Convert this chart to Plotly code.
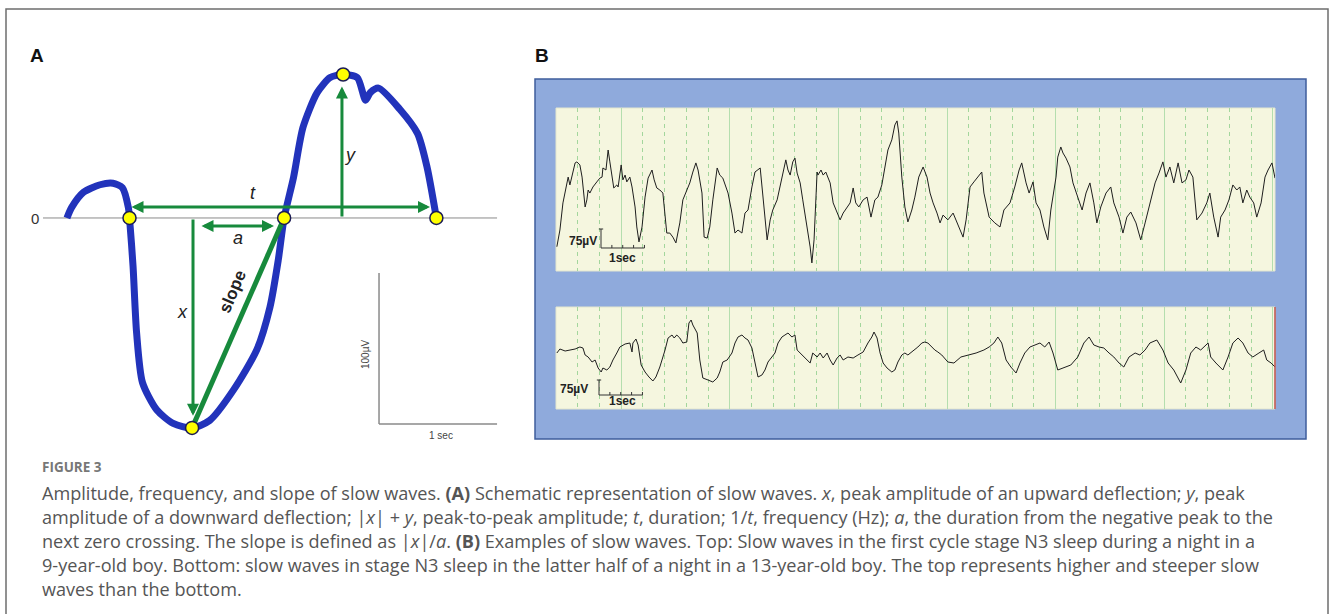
import plotly.graph_objects as go

W, H = 1332, 614

# ---------------- DATA ----------------
# Panel A: schematic slow wave (time in s, amplitude in µV)
wave_t = [0.00, 0.04, 0.14, 0.28, 0.39, 0.47, 0.52, 0.53, 0.56, 0.59, 0.64, 0.76, 0.90, 1.06,
          1.21, 1.41, 1.61, 1.72, 1.79, 1.84, 1.92, 2.00, 2.12, 2.23, 2.34, 2.46, 2.53, 2.57,
          2.64, 2.82, 2.97, 3.05, 3.13]
wave_uv = [0, 7, 17, 22, 23, 20, 7, 0, -32, -76, -109, -127, -136, -139,
           -134, -114, -87, -59, -28, 0, 27, 60, 83, 93, 95, 93, 78, 83,
           86, 72, 56, 34, 0]
key_t = [0.53, 1.84, 3.13, 1.06, 2.34]
key_uv = [0, 0, 0, -139, 95]

# Panel B top: first-cycle N3, 9-year-old (time s, µV)
top_t = [0.02, 0.09, 0.16, 0.25, 0.28, 0.32, 0.37, 0.44, 0.48, 0.55, 0.60, 0.67, 0.71, 0.74, 0.78,
         0.85, 0.94, 1.01, 1.06, 1.08, 1.15, 1.20, 1.24, 1.29, 1.33, 1.40, 1.43, 1.50, 1.54, 1.59,
         1.63, 1.70, 1.75, 1.82, 1.86, 1.91, 1.98, 2.05, 2.12, 2.21, 2.26, 2.32, 2.39, 2.46, 2.55,
         2.62, 2.69, 2.76, 2.85, 2.92, 3.01, 3.08, 3.15, 3.22, 3.27, 3.36, 3.41, 3.48, 3.54, 3.61,
         3.71, 3.77, 3.84, 3.96, 4.05, 4.12, 4.19, 4.28, 4.35, 4.42, 4.51, 4.58, 4.70, 4.76, 4.86,
         4.93, 4.99, 5.09, 5.16, 5.22, 5.29, 5.34, 5.39, 5.45, 5.50, 5.55, 5.62, 5.68, 5.78, 5.85,
         5.89, 5.94, 6.01, 6.03, 6.10, 6.15, 6.21, 6.31, 6.38, 6.47, 6.54, 6.61, 6.70, 6.77, 6.84,
         6.90, 6.97, 7.07, 7.16, 7.25, 7.34, 7.41, 7.50, 7.57, 7.64, 7.73, 7.80, 7.85, 7.89, 7.96,
         8.03, 8.10, 8.19, 8.26, 8.35, 8.45, 8.54, 8.61, 8.68, 8.77, 8.84, 8.91, 9.02, 9.14, 9.28,
         9.37, 9.44, 9.53, 9.62, 9.71, 9.80, 9.85, 9.97, 10.10, 10.22, 10.31, 10.45, 10.56, 10.66,
         10.72, 10.82, 10.89, 10.98, 11.05, 11.14, 11.23, 11.32, 11.39, 11.51, 11.55, 11.62, 11.67,
         11.74, 11.83, 11.90, 12.01, 12.11, 12.20, 12.29, 12.38, 12.45, 12.54, 12.66, 12.77, 12.84,
         12.96, 13.05, 13.14, 13.23, 13.35, 13.46, 13.56, 13.67, 13.79, 13.88, 13.97, 14.04, 14.13,
         14.22, 14.32, 14.41, 14.50, 14.57, 14.66, 14.75, 14.87, 14.98, 15.05, 15.14, 15.24, 15.30,
         15.40, 15.49, 15.58, 15.67, 15.74, 15.81, 15.90, 15.97, 16.06, 16.13, 16.23, 16.32, 16.39,
         16.48, 16.55]
top_uv = [-226, -160, -53, 26, 49, 18, 57, 105, 109, 97, 49, -69, -41, -2, -14,
          10, 30, 45, 49, 85, 77, 156, 109, 45, 6, 18, 10, 97, 38, 57,
          30, 49, 10, -69, -148, -207, -148, -30, 45, 77, 38, 6, -2, -14, -172,
          -172, -188, -211, -132, -41, -2, 26, 69, 105, 77, -14, -188, -192, -148, -41,
          85, 57, 45, -14, -93, -172, -160, -172, -93, -81, 10, 69, 85, -14, -199,
          -120, -81, -41, 10, 65, 117, 77, 57, 109, 124, 65, 26, -41, -148, -227,
          -290, -199, 69, 57, 77, 57, 69, 26, -53, -93, -120, -93, -69, -53, 6,
          -53, -69, -41, -30, -109, -41, -30, 18, 89, 156, 196, 255, 271, 223, 49,
          -69, -128, -81, -30, 49, 89, 49, -14, -53, -93, -132, -101, -120, -93, -148,
          -188, -120, 10, 30, 49, 69, -14, -109, -132, -148, -81, -53, 10, 77,
          105, 26, -14, 30, -53, -81, -148, -199, -81, 49, 128, 168, 144,
          124, 89, 26, -30, -81, -14, 26, -53, -132, -69, -14, 10, -53,
          -109, -172, -109, -89, -132, -199, -132, -53, 26, 65, 109, 49, 89,
          26, 105, 26, 38, 77, 49, -120, -93, -53, -14, -109, -188, -109,
          -81, -41, 18, -2, 10, -53, -2, -30, -53, -109, -53, 49, 77,
          105, 45]

# Panel B bottom: latter-half N3, 13-year-old (time s, µV)
bot_t = [0.02, 0.09, 0.21, 0.32, 0.44, 0.55, 0.62, 0.67, 0.74, 0.83, 0.90, 0.97, 1.04, 1.08, 1.17,
         1.24, 1.31, 1.40, 1.47, 1.59, 1.70, 1.75, 1.77, 1.84, 1.89, 1.96, 2.05, 2.14, 2.23, 2.30,
         2.39, 2.51, 2.58, 2.67, 2.72, 2.78, 2.85, 2.92, 3.01, 3.06, 3.11, 3.15, 3.25, 3.31, 3.38,
         3.50, 3.61, 3.71, 3.77, 3.84, 3.94, 4.05, 4.12, 4.19, 4.28, 4.35, 4.42, 4.51, 4.58, 4.65,
         4.74, 4.81, 4.88, 4.97, 5.04, 5.11, 5.20, 5.27, 5.34, 5.43, 5.50, 5.55, 5.66, 5.78, 5.85,
         5.91, 6.01, 6.08, 6.15, 6.24, 6.31, 6.38, 6.47, 6.54, 6.61, 6.72, 6.84, 6.95, 7.07, 7.18,
         7.27, 7.32, 7.39, 7.46, 7.53, 7.62, 7.73, 7.80, 7.87, 7.96, 8.03, 8.10, 8.19, 8.26, 8.33,
         8.42, 8.49, 8.56, 8.65, 8.72, 8.79, 8.88, 9.02, 9.16, 9.32, 9.51, 9.67, 9.85, 9.97, 10.08,
         10.17, 10.26, 10.36, 10.47, 10.59, 10.68, 10.79, 10.91, 11.02, 11.14, 11.25, 11.35, 11.44,
         11.55, 11.67, 11.85, 12.01, 12.15, 12.27, 12.38, 12.50, 12.61, 12.73, 12.84, 12.96, 13.07,
         13.19, 13.33, 13.44, 13.56, 13.67, 13.83, 13.97, 14.09, 14.22, 14.38, 14.50, 14.61, 14.73,
         14.84, 15.01, 15.07, 15.19, 15.35, 15.47, 15.58, 15.70, 15.81, 15.93, 16.04, 16.18, 16.29,
         16.36, 16.46, 16.55]
bot_uv = [25, 45, 35, 40, 45, 55, 50, 15, 5, -20, -10, -50, -70, -50, -60,
          -45, -10, 25, 55, 70, 75, 30, 75, 95, 65, -35, -70, -95, -115, -95,
          -45, 40, 100, 115, 100, 115, 100, 75, 80, 175, 190, 165, 125, -10, -100,
          -110, -120, -100, -70, -20, -10, 25, 75, 105, 115, 100, 90, 50, -25, -95,
          -85, -60, -20, 5, 25, 75, 105, 115, 125, 105, 115, 40, 15, -10, -25,
          25, 5, 25, 0, 25, -10, -35, 0, 15, -10, 5, 0, 15, 30, 75,
          105, 130, 100, 25, -25, -50, -70, -60, -20, 15, 25, 15, 30, 40, 55,
          75, 80, 75, 55, 40, 30, 15, -20, -25, 5, 15, 25, 40, 55, 75,
          105, 75, -10, -45, -75, -25, 25, 55, 65, 75, 55, 80, 25,
          -60, -50, -35, 5, 75, 105, 65, 55, 50, 25, 5, -25, -45,
          5, 25, 15, 40, 75, 90, 40, -25, -60, -125, -60, 25, 55,
          40, 75, 5, -25, -60, 5, 75, 100, 75, 25, 5, 25, 40,
          -10, -25, -45]

caption_lines = [
    "Amplitude, frequency, and slope of slow waves. <b>(A)</b> Schematic representation of slow waves. <i>x</i>, peak amplitude of an upward deflection; <i>y</i>, peak",
    "amplitude of a downward deflection; |<i>x</i>| + <i>y</i>, peak-to-peak amplitude; <i>t</i>, duration; 1/<i>t</i>, frequency (Hz); <i>a</i>, the duration from the negative peak to the",
    "next zero crossing. The slope is defined as |<i>x</i>|/<i>a</i>. <b>(B)</b> Examples of slow waves. Top: Slow waves in the first cycle stage N3 sleep during a night in a",
    "9-year-old boy. Bottom: slow waves in stage N3 sleep in the latter half of a night in a 13-year-old boy. The top represents higher and steeper slow",
    "waves than the bottom.",
]

# ---------------- LAYOUT HELPERS ----------------
def px(x):
    return x / W

def py(y):
    return 1 - y / H

BLUE = "#2233BB"
GREEN = "#178A3C"
GRAY = "#8a8a8a"

fig = go.Figure()

# Panel A traces
fig.add_trace(go.Scatter(x=[-0.203, 3.644], y=[0, 0], mode="lines",
                         line=dict(color=GRAY, width=1), xaxis="x", yaxis="y", hoverinfo="skip"))
fig.add_trace(go.Scatter(x=wave_t, y=wave_uv, mode="lines",
                         line=dict(color=BLUE, width=7, shape="spline", smoothing=0.7),
                         xaxis="x", yaxis="y", cliponaxis=False))
fig.add_trace(go.Scatter(x=[key_t[3], key_t[1]], y=[key_uv[3], key_uv[1]], mode="lines",
                         line=dict(color=GREEN, width=5), xaxis="x", yaxis="y"))
fig.add_trace(go.Scatter(x=key_t, y=key_uv, mode="markers",
                         marker=dict(size=13, color="#FFFF00", line=dict(color="#1B1B55", width=1.5)),
                         xaxis="x", yaxis="y", cliponaxis=False))

# Panel B traces
fig.add_trace(go.Scatter(x=top_t, y=top_uv, mode="lines", line=dict(color="#1e1e1e", width=1),
                         xaxis="x2", yaxis="y2"))
fig.add_trace(go.Scatter(x=bot_t, y=bot_uv, mode="lines", line=dict(color="#1e1e1e", width=1),
                         xaxis="x3", yaxis="y3"))

shapes = []
# outer border
shapes.append(dict(type="rect", xref="paper", yref="paper", x0=px(6), x1=px(1328), y0=py(640), y1=py(9),
                   line=dict(color="#6e6e6e", width=1.5), fillcolor="rgba(0,0,0,0)"))
# B blue frame
shapes.append(dict(type="rect", xref="paper", yref="paper", x0=px(535), x1=px(1306), y0=py(439), y1=py(79),
                   line=dict(color="#3F5E9C", width=1.5), fillcolor="#8FAADC", layer="below"))
for (t0, t1) in [(108, 271), (307, 409)]:
    shapes.append(dict(type="rect", xref="paper", yref="paper", x0=px(556), x1=px(1275), y0=py(t1), y1=py(t0),
                       line=dict(color="#E3E6CF", width=1), fillcolor="#F5F6DF", layer="below"))
shapes.append(dict(type="line", xref="paper", yref="paper", x0=px(1275), x1=px(1275), y0=py(409), y1=py(307),
                   line=dict(color="#C0504D", width=1.5)))

# Panel A scale bar (100 µV, 1 sec)
shapes.append(dict(type="line", xref="x", yref="y", x0=2.644, x1=2.644, y0=-36.4, y1=-136.4,
                   line=dict(color=GRAY, width=1.5)))
shapes.append(dict(type="line", xref="x", yref="y", x0=2.644, x1=3.644, y0=-136.4, y1=-136.4,
                   line=dict(color=GRAY, width=1.5)))

# Panel B scale bars (75 µV, 1 sec)
for xa, ya, v0, ticklen in [("x2", "y2", -156, 12), ("x3", "y3", -110, 15)]:
    x0 = 0.99 if xa == "x3" else 1.036
    shapes.append(dict(type="line", xref=xa, yref=ya, x0=x0, x1=x0, y0=v0, y1=v0 - 75,
                       line=dict(color="#333", width=1)))
    shapes.append(dict(type="line", xref=xa, yref=ya, x0=x0 - 0.05, x1=x0 + 0.05, y0=v0, y1=v0,
                       line=dict(color="#333", width=1)))
    shapes.append(dict(type="line", xref=xa, yref=ya, x0=x0, x1=x0 + 1.0, y0=v0 - 75, y1=v0 - 75,
                       line=dict(color="#333", width=1)))
    for k in range(1, 5):
        shapes.append(dict(type="line", xref=xa, yref=ya, x0=x0 + 0.25 * k, x1=x0 + 0.25 * k,
                           y0=v0 - 75, y1=v0 - 75 + ticklen, line=dict(color="#333", width=1)))

ann = []

def paper_text(text, x, y, font, xanchor="center"):
    return dict(text=text, x=px(x), y=py(y), xref="paper", yref="paper", showarrow=False,
                xanchor=xanchor, yanchor="middle", font=font)

# panel letters
ann.append(paper_text("<b>A</b>", 37, 55, dict(family="Liberation Sans", size=19, color="#111")))
ann.append(paper_text("<b>B</b>", 542, 55, dict(family="Liberation Sans", size=19, color="#111")))
ann.append(paper_text("0", 35, 219, dict(family="Liberation Sans", size=15, color="#333")))

# green arrows in panel A
def arrow(x, y, ax, ay, both=False):
    d = dict(x=x, y=y, ax=ax, ay=ay, xref="x", yref="y", axref="x", ayref="y", text="",
             showarrow=True, arrowhead=2, arrowsize=0.8, arrowwidth=3, arrowcolor=GREEN, standoff=0,
             startstandoff=0)
    if both:
        d.update(arrowside="end+start", startarrowhead=2, startarrowsize=0.8)
    return d

ann.append(arrow(3.076, 7.3, 0.534, 7.3, both=True))      # t
ann.append(arrow(2.33, 87, 2.33, 0))                       # y
ann.append(arrow(1.754, -5.3, 1.127, -5.3, both=True))    # a
ann.append(arrow(1.068, -131, 1.068, 0))                   # x

lab_font = dict(family="Liberation Sans", size=18, color="#222")
for txt, tx, ty in [("<i>t</i>", 1.576, 16.6), ("<i>y</i>", 2.40, 41.7), ("<i>a</i>", 1.449, -13.2),
                    ("<i>x</i>", 0.983, -62.3)]:
    ann.append(dict(text=txt, x=tx, y=ty, xref="x", yref="y", showarrow=False, font=lab_font))
ann.append(dict(text="<b>slope</b>", x=1.407, y=-49, xref="x", yref="y", showarrow=False,
                textangle=-67, font=dict(family="Liberation Sans", size=17, color="#222")))
ann.append(dict(text="100µV", x=2.534, y=-90.7, xref="x", yref="y", showarrow=False, textangle=-90,
                font=dict(family="Liberation Sans", size=10, color="#444")))
ann.append(dict(text="1 sec", x=3.169, y=-143.7, xref="x", yref="y", showarrow=False,
                font=dict(family="Liberation Sans", size=10, color="#444")))

# Panel B scale labels
bfont = dict(family="Liberation Sans", size=12, color="#222")
ann.append(dict(text="<b>75µV</b>", x=0.99, y=-203, xref="x2", yref="y2", xanchor="right",
                showarrow=False, font=bfont))
ann.append(dict(text="<b>1sec</b>", x=1.54, y=-271, xref="x2", yref="y2", showarrow=False, font=bfont))
ann.append(dict(text="<b>75µV</b>", x=0.79, y=-155, xref="x3", yref="y3", xanchor="right",
                showarrow=False, font=bfont))
ann.append(dict(text="<b>1sec</b>", x=1.54, y=-215, xref="x3", yref="y3", showarrow=False, font=bfont))

# Caption
ann.append(paper_text("<b>FIGURE 3</b>", 40, 467, dict(family="Open Sans", size=13.5, color="#777"),
                      xanchor="left"))
for i, line in enumerate(caption_lines):
    ann.append(paper_text(line, 40, 493 + 24 * i, dict(family="Open Sans", size=18.1, color="#555"),
                          xanchor="left"))

hidden = dict(visible=False, showgrid=False, zeroline=False)
xgrid = dict(showgrid=True, gridcolor="#B4DEAE", gridwidth=1, tick0=1.5, dtick=2.5,
             showticklabels=False, ticks="", zeroline=False, showline=False, range=[0, 16.55],
             minor=dict(showgrid=True, tick0=0, dtick=0.5, gridcolor="#A3D69C", griddash="4px,4px",
                        gridwidth=1))
ygrid = dict(showgrid=False, showticklabels=False, ticks="", zeroline=False, showline=False)

fig.update_layout(
    width=W, height=H, margin=dict(l=0, r=0, t=0, b=0),
    paper_bgcolor="white", plot_bgcolor="rgba(0,0,0,0)", showlegend=False,
    xaxis=dict(domain=[px(43), px(500)], range=[-0.203, 3.669], **hidden),
    yaxis=dict(domain=[py(440), py(60)], range=[-147.0, 104.6], **hidden),
    xaxis2=dict(domain=[px(556), px(1275)], anchor="y2", **xgrid),
    yaxis2=dict(domain=[py(271), py(108)], range=[-321.9, 321.9], anchor="x2", **ygrid),
    xaxis3=dict(domain=[px(556), px(1275)], anchor="y3", **xgrid),
    yaxis3=dict(domain=[py(409), py(307)], range=[-255, 255], anchor="x3", **ygrid),
    shapes=shapes, annotations=ann,
)

fig.write_html("out.html")
